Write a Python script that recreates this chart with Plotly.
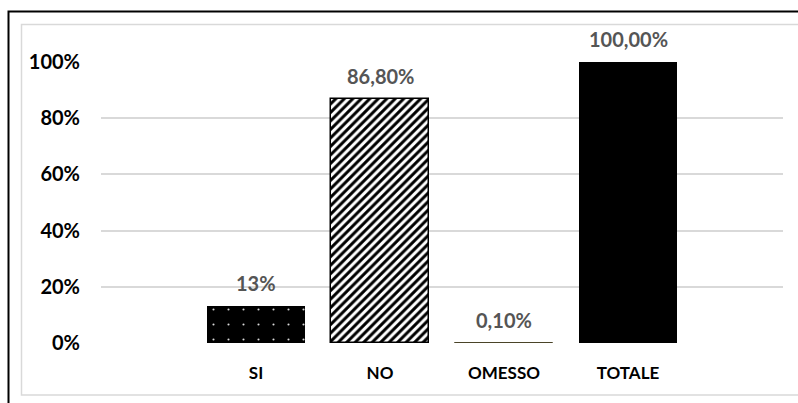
import plotly.graph_objects as go

# Risposte: percentuali per categoria
categorie = ["SI", "NO", "OMESSO", "TOTALE"]
valori = [13, 86.8, 0.1, 100]
etichette = ["13%", "86,80%", "0,10%", "100,00%"]
y_ticks = [0, 20, 40, 60, 80, 100]
y_tick_labels = ["0%", "20%", "40%", "60%", "80%", "100%"]

W, H = 798, 403
ML, MR, MT, MB = 101, 15, 62, 60
PW, PH = W - ML - MR, H - MT - MB


def px_x(x):
    return (x - ML) / PW


def px_y(y):
    return (H - MB - y) / PH


FONT = "Lato"
xs = list(range(len(categorie)))

fig = go.Figure()

# SI: nero con puntini bianchi
fig.add_trace(go.Bar(
    x=[xs[0]], y=[valori[0]], width=0.79,
    marker=dict(color="black", line=dict(width=0),
                pattern=dict(shape=".", fgcolor="white", bgcolor="black",
                             fgopacity=0.85, size=15, solidity=0.015,
                             fillmode="overlay")),
))
# NO: righe diagonali
fig.add_trace(go.Bar(
    x=[xs[1]], y=[valori[1]], width=0.79,
    marker=dict(color="white", line=dict(width=1.5, color="black"),
                pattern=dict(shape="/", fgcolor="black", bgcolor="white",
                             fgopacity=1, size=6, solidity=0.5,
                             fillmode="overlay")),
))
# OMESSO
fig.add_trace(go.Bar(
    x=[xs[2]], y=[valori[2]], width=0.79,
    marker=dict(color="#4a4428", line=dict(width=1, color="#4a4428")),
))
# TOTALE
fig.add_trace(go.Bar(
    x=[xs[3]], y=[valori[3]], width=0.79,
    marker=dict(color="black", line=dict(width=0)),
))

for xi, v, t in zip(xs, valori, etichette):
    fig.add_annotation(x=xi, y=v, text=f"<b>{t}</b>", showarrow=False,
                       yanchor="bottom", yshift=9,
                       font=dict(family=FONT, size=20, color="#555555"))

# cornice esterna (nera) e bordo interno (grigio chiaro)
fig.add_shape(type="path", xref="paper", yref="paper",
              path=(f"M {px_x(8.5)} {px_y(410)} L {px_x(8.5)} {px_y(11.5)} "
                    f"L {px_x(810)} {px_y(11.5)}"),
              line=dict(color="black", width=2))
fig.add_shape(type="rect", xref="paper", yref="paper",
              x0=px_x(21.5), y0=px_y(395), x1=px_x(810), y1=px_y(24.5),
              line=dict(color="#d9d9d9", width=1.5))

fig.update_layout(
    width=W, height=H,
    margin=dict(l=ML, r=MR, t=MT, b=MB),
    paper_bgcolor="white", plot_bgcolor="white",
    showlegend=False, bargap=0,
    xaxis=dict(range=[-1.25, 4.25], tickvals=xs,
               ticktext=[f"<b>{c}</b>" for c in categorie],
               showgrid=False, zeroline=False, showline=False, ticks="",
               ticklabelstandoff=18,
               tickfont=dict(family=FONT, size=17, color="black")),
    yaxis=dict(range=[0, 100], tickvals=y_ticks,
               ticktext=[f"<b>{t}</b>" for t in y_tick_labels],
               showgrid=True, gridcolor="#d9d9d9", gridwidth=1.5,
               zeroline=False, showline=False, ticks="",
               ticklabelstandoff=20,
               tickfont=dict(family=FONT, size=20, color="black")),
)

fig.write_html("out.html")
